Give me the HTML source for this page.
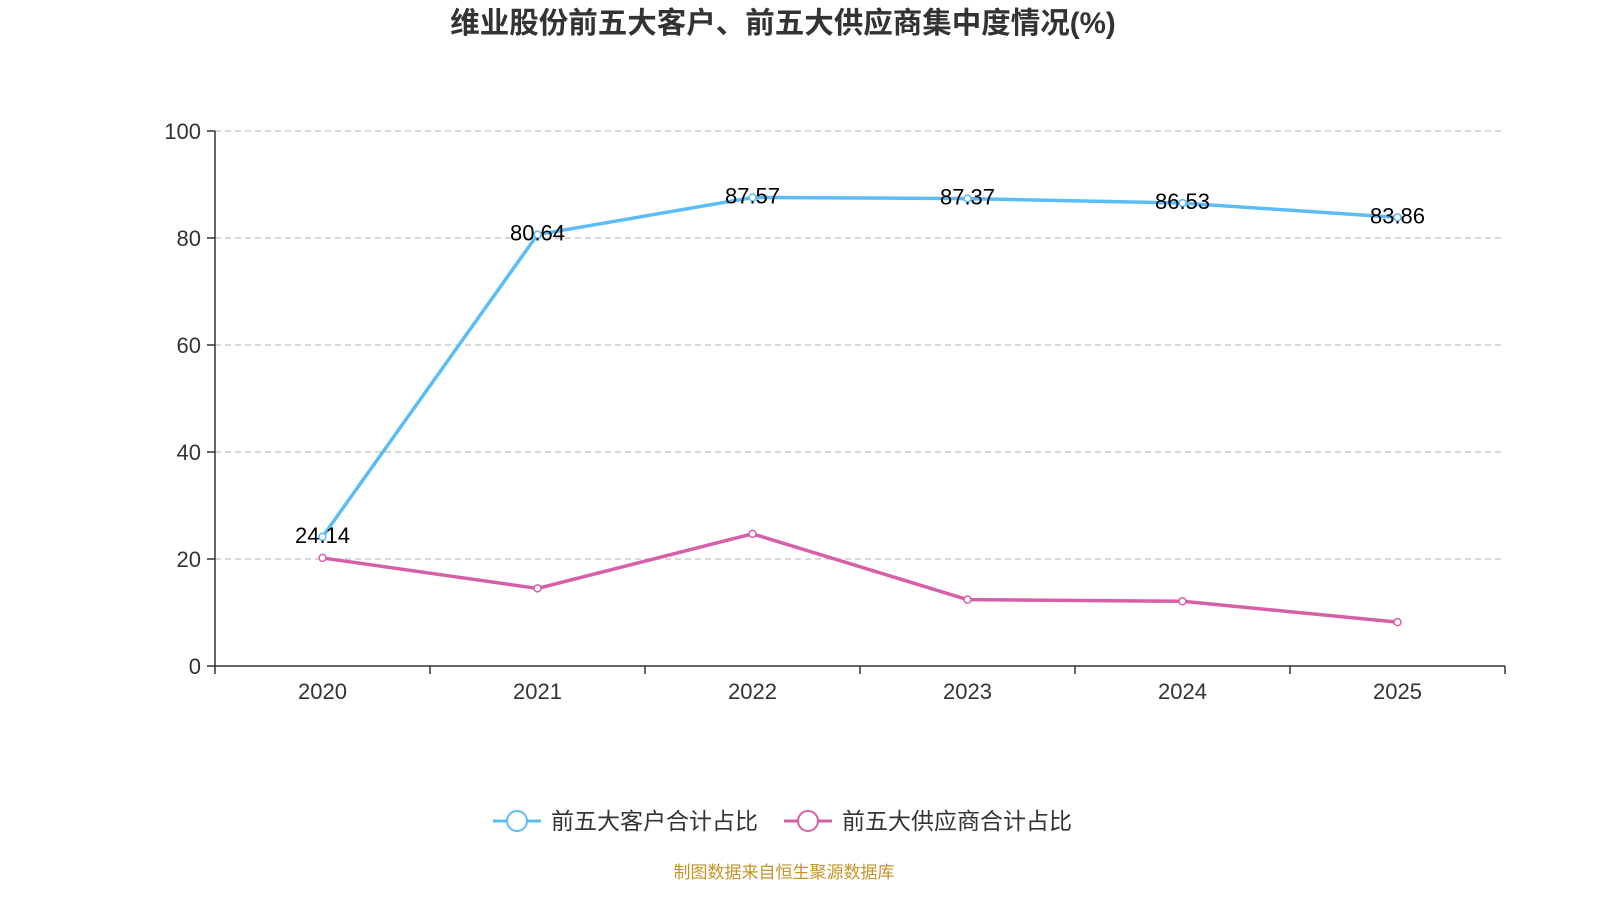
<!DOCTYPE html>
<html><head><meta charset="utf-8">
<style>
body{margin:0;background:#fff;width:1600px;height:900px;overflow:hidden;font-family:"Liberation Sans","Noto Sans CJK SC",sans-serif;}
</style></head>
<body>
<svg id="chart" width="1600" height="900" xmlns="http://www.w3.org/2000/svg">
<text x="783" y="33" text-anchor="middle" font-size="29.5" font-weight="bold" fill="#333" font-family="Liberation Sans,Noto Sans CJK SC,sans-serif">维业股份前五大客户、前五大供应商集中度情况(%)</text>
<g id="grid"></g><g id="axes"></g><g id="series"></g>
<g>
<g>
<line x1="493" y1="821" x2="541" y2="821" stroke="#5bbdf5" stroke-width="3"/>
<circle cx="517" cy="821" r="10" fill="#fff" stroke="#5bbdf5" stroke-width="2"/>
<text x="551" y="829" font-size="23" fill="#333">前五大客户合计占比</text></g>
<g>
<line x1="784" y1="821" x2="832" y2="821" stroke="#d660a8" stroke-width="3"/>
<circle cx="808" cy="821" r="10" fill="#fff" stroke="#d660a8" stroke-width="2"/>
<text x="842" y="829" font-size="23" fill="#333">前五大供应商合计占比</text></g>
</g>
<text x="784" y="878" text-anchor="middle" font-size="17" fill="#c8922a">制图数据来自恒生聚源数据库</text>
</svg>
<script>
const categories=["2020","2021","2022","2023","2024","2025"];
const customerValues=[24.14,80.64,87.57,87.37,86.53,83.86];
const supplierValues=[20.2,14.5,24.7,12.4,12.1,8.2];
const yTicks=[0,20,40,60,80,100];
const NS="http://www.w3.org/2000/svg";
const L=215,R=1505,T=131,B=666;
const band=(R-L)/categories.length;
const x=i=>L+band*(i+0.5);
const y=v=>B-(v/100)*(B-T);
function mk(tag,attrs,parent){const e=document.createElementNS(NS,tag);for(const k in attrs)e.setAttribute(k,attrs[k]);parent.appendChild(e);return e;}
const grid=document.getElementById('grid'),axes=document.getElementById('axes'),ser=document.getElementById('series');
yTicks.forEach(t=>{
 if(t>0){const g=mk('line',{x1:L,x2:R,y1:y(t),y2:y(t),stroke:'#ccc','stroke-width':1.5,'stroke-dasharray':'6,4'},grid);
 
 }
 mk('line',{x1:L-8,x2:L,y1:y(t),y2:y(t),stroke:'#333','stroke-width':1.5},axes);
 const tx=mk('text',{x:L-14,y:y(t)+8,'text-anchor':'end','font-size':22,fill:'#333'},axes);tx.textContent=t;
 
 
});
mk('line',{x1:L,x2:L,y1:T,y2:B,stroke:'#333','stroke-width':1.5},axes);
mk('line',{x1:L,x2:R,y1:B,y2:B,stroke:'#333','stroke-width':1.5},axes);
for(let i=0;i<=categories.length;i++)mk('line',{x1:L+band*i,x2:L+band*i,y1:B,y2:B+8,stroke:'#333','stroke-width':1.5},axes);
categories.forEach((c,i)=>{const tx=mk('text',{x:x(i),y:B+33,'text-anchor':'middle','font-size':22,fill:'#333'},axes);tx.textContent=c;
 
 });
function draw(vals,color,name,labels){
 const p=mk('polyline',{points:vals.map((v,i)=>x(i)+','+y(v)).join(' '),fill:'none',stroke:color,'stroke-width':3.5},ser);
 
 
 vals.forEach((v,i)=>{const c=mk('circle',{cx:x(i),cy:y(v),r:3.5,fill:'#fff',stroke:color,'stroke-width':1.5},ser);
  
  
  if(labels){const t=mk('text',{x:x(i),y:y(v)+6,'text-anchor':'middle','font-size':22,fill:'#000'},ser);t.textContent=v.toFixed(2);
  
  }
 });
}
draw(supplierValues,'#d660a8','suppliers',false);
draw(customerValues,'#5bbdf5','customers',true);
</script>
</body></html>
